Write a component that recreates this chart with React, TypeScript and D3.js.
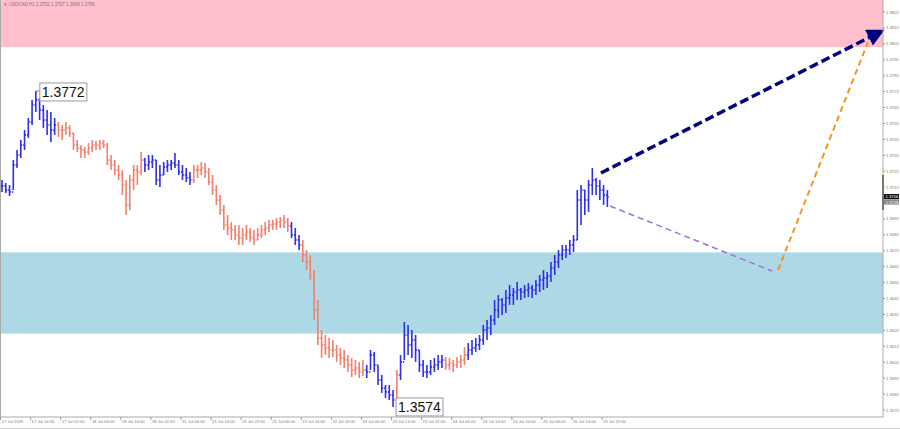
import React from "react";
import * as d3 from "d3";

// ---- Data (USDCAD, H1) ----
const highs = [
  1.37165, 1.37146, 1.37133, 1.3729, 1.37353, 1.37416, 1.37479, 1.37554, 1.37667, 1.37724,
  1.3768, 1.37636, 1.37604, 1.37592, 1.37554, 1.37529, 1.3751, 1.37529, 1.3751, 1.3746,
  1.37416, 1.37385, 1.37372, 1.37397, 1.37416, 1.3741, 1.37416, 1.37416, 1.37397, 1.37322,
  1.3729, 1.37259, 1.37227, 1.37165, 1.37196, 1.37259, 1.37259, 1.3734, 1.37303, 1.37322,
  1.37322, 1.3729, 1.37259, 1.37278, 1.3729, 1.3729, 1.37334, 1.3729, 1.37259, 1.3724,
  1.37215, 1.37259, 1.37259, 1.37278, 1.37271, 1.3724, 1.37196, 1.37133, 1.3707, 1.37008,
  1.36945, 1.36901, 1.36882, 1.36882, 1.36863, 1.36882, 1.36863, 1.36851, 1.36863, 1.36882,
  1.36901, 1.36913, 1.36913, 1.36926, 1.36932, 1.36945, 1.36926, 1.36901, 1.36863, 1.36819,
  1.36788, 1.36725, 1.36694, 1.36599, 1.36411, 1.36223, 1.36191, 1.36172, 1.3616, 1.36129,
  1.3611, 1.36097, 1.36066, 1.36047, 1.36034, 1.36022, 1.36034, 1.36003, 1.36097, 1.36085,
  1.36003, 1.3594, 1.35877, 1.35877, 1.35846, 1.35971, 1.36066, 1.36273, 1.36254, 1.36223,
  1.36191, 1.36097, 1.36034, 1.36003, 1.36034, 1.36047, 1.36066, 1.36066, 1.36053, 1.36047,
  1.36034, 1.36053, 1.36066, 1.36116, 1.36141, 1.3616, 1.36172, 1.36191, 1.36254, 1.36285,
  1.36317, 1.36411, 1.36442, 1.36424, 1.36474, 1.36505, 1.36486, 1.36524, 1.36486, 1.36505,
  1.36518, 1.36505, 1.36537, 1.36568, 1.36599, 1.36587, 1.3665, 1.36694, 1.36725, 1.36756,
  1.36756, 1.36788, 1.36819, 1.37102, 1.37133, 1.37102, 1.37165, 1.3724, 1.37177, 1.37165,
  1.37133, 1.37102,
];
const lows = [
  1.37089, 1.37083, 1.37064, 1.37102, 1.3724, 1.37303, 1.37353, 1.37429, 1.3751, 1.37592,
  1.37541, 1.37492, 1.37448, 1.37403, 1.37448, 1.37435, 1.37416, 1.37448, 1.37435, 1.37353,
  1.3734, 1.37303, 1.37303, 1.37322, 1.3734, 1.37353, 1.37353, 1.37366, 1.37259, 1.37227,
  1.37196, 1.37165, 1.3707, 1.36945, 1.36976, 1.37102, 1.37133, 1.37196, 1.37215, 1.37227,
  1.3724, 1.37133, 1.37121, 1.37196, 1.37215, 1.37227, 1.3724, 1.37196, 1.37165, 1.37152,
  1.37133, 1.37146, 1.37177, 1.37196, 1.37177, 1.37133, 1.3707, 1.37008, 1.36945, 1.36851,
  1.36819, 1.36788, 1.36788, 1.36756, 1.36756, 1.36788, 1.36775, 1.36756, 1.36788, 1.368,
  1.36819, 1.36838, 1.36851, 1.36851, 1.36863, 1.36863, 1.36838, 1.368, 1.36756, 1.36725,
  1.3665, 1.36599, 1.36537, 1.36285, 1.36129, 1.36047, 1.36066, 1.36047, 1.36053, 1.36022,
  1.36003, 1.35984, 1.35959, 1.35927, 1.3594, 1.35921, 1.35934, 1.35921, 1.35971, 1.35959,
  1.35877, 1.35827, 1.35795, 1.35783, 1.35739, 1.35783, 1.35909, 1.36034, 1.36066, 1.36047,
  1.36022, 1.35959, 1.35927, 1.35921, 1.3594, 1.35959, 1.35971, 1.35984, 1.35971, 1.35971,
  1.35959, 1.35984, 1.35984, 1.36003, 1.36034, 1.36066, 1.36085, 1.36097, 1.36129, 1.3616,
  1.36191, 1.36254, 1.36298, 1.36317, 1.3633, 1.3638, 1.3638, 1.36411, 1.36411, 1.36424,
  1.3643, 1.36424, 1.36442, 1.36461, 1.36474, 1.36486, 1.36524, 1.36568, 1.36612, 1.36662,
  1.36675, 1.36694, 1.36713, 1.36788, 1.36882, 1.36945, 1.36964, 1.3707, 1.3707, 1.37039,
  1.37008, 1.36995,
];
const closes = [
  1.37127, 1.37102, 1.37089, 1.37259, 1.37322, 1.37385, 1.37448, 1.37529, 1.37636, 1.37667,
  1.37604, 1.37541, 1.3751, 1.37479, 1.3751, 1.37479, 1.37479, 1.37492, 1.3746, 1.37385,
  1.37366, 1.37353, 1.3734, 1.37366, 1.37385, 1.37385, 1.37397, 1.37385, 1.3729, 1.37259,
  1.37227, 1.37196, 1.37133, 1.37008, 1.37165, 1.37227, 1.37215, 1.3729, 1.37259, 1.37278,
  1.3729, 1.37165, 1.37196, 1.37246, 1.37259, 1.37271, 1.37259, 1.37215, 1.37196, 1.37177,
  1.37165, 1.37227, 1.37227, 1.3724, 1.37215, 1.37152, 1.37102, 1.37039, 1.36976, 1.36882,
  1.36863, 1.36851, 1.36819, 1.368, 1.36819, 1.36838, 1.368, 1.36788, 1.36819, 1.36851,
  1.36863, 1.36882, 1.36888, 1.36901, 1.36913, 1.36901, 1.36875, 1.36819, 1.36788, 1.36756,
  1.36694, 1.3665, 1.36568, 1.36348, 1.36172, 1.36129, 1.3611, 1.36097, 1.36097, 1.36066,
  1.36047, 1.36034, 1.36003, 1.35971, 1.35984, 1.35959, 1.35971, 1.35959, 1.36066, 1.36003,
  1.35909, 1.35858, 1.35833, 1.35814, 1.35783, 1.3594, 1.36022, 1.36191, 1.36129, 1.3616,
  1.36097, 1.36003, 1.35959, 1.35959, 1.3599, 1.36003, 1.36022, 1.36034, 1.36003, 1.36015,
  1.36003, 1.36022, 1.36034, 1.36066, 1.36097, 1.3611, 1.36129, 1.3616, 1.36223, 1.36235,
  1.36285, 1.36348, 1.36411, 1.3638, 1.36424, 1.36442, 1.36461, 1.36474, 1.36461, 1.36474,
  1.36486, 1.36474, 1.36505, 1.36537, 1.36549, 1.36562, 1.36612, 1.3665, 1.36694, 1.36725,
  1.36725, 1.36756, 1.36788, 1.37039, 1.37102, 1.37039, 1.37133, 1.37165, 1.37127, 1.37102,
  1.3707, 1.37058,
];

// wave colouring: bar index where each wave starts, and its direction
const waveStarts = [0, 15, 38, 51, 77, 80, 97, 105, 106, 118, 124];
const waveDirs = ["up", "down", "up", "down", "up", "down", "up", "down", "up", "down", "up"];

// zones
const resistanceZone = [1.38, 1.3835];
const supportZone = [1.362, 1.3671];

// forecast arrows: [barIndex, price]
const mainArrow = [[159.3, 1.37209], [233.5, 1.38094]];
const pullbackLine = [[161.7, 1.37001], [204.8, 1.36593]];
const orangeLine = [[206.4, 1.36599], [230.3, 1.38031]];

const priceTicks = [
  1.3822, 1.3812, 1.3802, 1.3792, 1.3782, 1.3772, 1.3762, 1.3752, 1.3742, 1.3732, 1.3722, 1.3712,
  1.3692, 1.3682, 1.3672, 1.3662, 1.3652, 1.3642, 1.3632, 1.3622, 1.3612, 1.3602, 1.3592, 1.3582, 1.3572,
];
const timeLabels = [
  "17 Jul 2025", "17 Jul 14:00", "17 Jul 22:00", "18 Jul 06:00", "18 Jul 14:00", "18 Jul 22:00",
  "21 Jul 06:00", "21 Jul 14:00", "21 Jul 22:00", "22 Jul 06:00", "22 Jul 14:00", "22 Jul 22:00",
  "23 Jul 06:00", "23 Jul 14:00", "23 Jul 22:00", "24 Jul 06:00", "24 Jul 14:00", "24 Jul 22:00",
  "25 Jul 06:00", "25 Jul 14:00", "25 Jul 22:00",
];
const timeLabelBars = [0, 8, 16, 24, 32, 40, 48, 56, 64, 72, 80, 88, 96, 104, 112, 120, 128, 136, 144, 152, 160];

const W = 900;
const H = 429;
const plotRight = 883;
const plotBottom = 417;

const BLUE = "#2f2fe8";
const SALMON = "#f47f6c";
const SMALL = "'Liberation Sans', Arial, sans-serif";

export default function App() {
  const x = d3.scaleLinear().domain([0, 1]).range([2, 5.76]);
  const y = d3.scaleLinear().domain([1.3572, 1.3822]).range([410, 12]);

  const dirOf = (i: number) => {
    let d = waveDirs[0];
    for (let k = 0; k < waveStarts.length; k++) if (i >= waveStarts[k]) d = waveDirs[k];
    return d;
  };

  const peakIdx = d3.maxIndex(highs);
  const lowIdx = d3.minIndex(lows);
  const lastClose = closes[closes.length - 1];

  const line = d3
    .line<number[]>()
    .x((d) => x(d[0]))
    .y((d) => y(d[1]));

  const fmt = d3.format(".4f");

  return (
    <svg
      width={W}
      height={H}
      style={{ position: "absolute", left: 0, top: 0, background: "#fff" }}
      fontFamily={SMALL}
    >
      <defs>
        <marker id="navyHead" viewBox="0 0 10 10" refX="7" refY="5" markerWidth="6.5" markerHeight="5" orient="auto">
          <path d="M0,0 L10,5 L0,10 z" fill="#000080" />
        </marker>
      </defs>
      {/* zones */}
      <rect x={0} y={0} width={plotRight} height={y(resistanceZone[0])} fill="#ffc0cb" />
      <rect
        x={0}
        y={y(supportZone[1])}
        width={plotRight}
        height={y(supportZone[0]) - y(supportZone[1])}
        fill="#add8e6"
      />
      {/* title */}
      <text x={3} y={5.5} fontSize={4.5} fill="#777">
        ▼ USDCAD,H1  1.3702 1.3707 1.3699 1.3706
      </text>

      {/* bars */}
      <g strokeWidth={1.6}>
        {highs.map((h, i) => {
          const c = dirOf(i) === "up" ? BLUE : SALMON;
          const xi = x(i);
          const open = i > 0 ? closes[i - 1] : closes[i];
          return (
            <g key={i} stroke={c}>
              <line x1={xi} x2={xi} y1={y(h)} y2={y(lows[i])} />
              <line x1={xi - 1.4} x2={xi} y1={y(open)} y2={y(open)} />
              <line x1={xi} x2={xi + 1.4} y1={y(closes[i])} y2={y(closes[i])} />
            </g>
          );
        })}
      </g>

      {/* forecast lines */}
      <path d={line(pullbackLine) || ""} stroke="#a070e0" strokeWidth={1.5} strokeDasharray="6 4" fill="none" />
      <path d={line(orangeLine) || ""} stroke="#f7941d" strokeWidth={2} strokeDasharray="6 4" fill="none" />
      <path
        d={line(mainArrow) || ""}
        stroke="#000080"
        strokeWidth={3.5}
        strokeDasharray="9 4"
        fill="none"
        markerEnd="url(#navyHead)"
      />

      {/* extreme labels */}
      <g fontSize={14}>
        <line x1={x(peakIdx)} y1={y(highs[peakIdx])} x2={x(peakIdx) + 4} y2={y(highs[peakIdx])} stroke="#888" />
        <rect x={x(peakIdx) + 4} y={y(highs[peakIdx]) - 8} width={47} height={18} fill="#fff" stroke="#999" />
        <text x={x(peakIdx) + 6} y={y(highs[peakIdx]) + 6} fill="#111">
          {fmt(highs[peakIdx])}
        </text>
        <rect x={x(lowIdx) + 3} y={y(lows[lowIdx]) - 9} width={47} height={18} fill="#fff" stroke="#999" />
        <text x={x(lowIdx) + 5} y={y(lows[lowIdx]) + 5} fill="#111">
          {fmt(lows[lowIdx])}
        </text>
      </g>

      {/* frame */}
      <line x1={0.5} x2={0.5} y1={0} y2={plotBottom} stroke="#aaa" />
      <line x1={plotRight} x2={plotRight} y1={0} y2={plotBottom} stroke="#aaa" />
      <line x1={0} x2={plotRight} y1={plotBottom} y2={plotBottom} stroke="#aaa" />
      <rect x={plotRight - 1} y={175} width={2} height={35} fill="#777" />
      <line x1={0} x2={W} y1={H - 0.5} y2={H - 0.5} stroke="#ccc" />

      {/* price axis */}
      <g fontSize={4.2} fill="#777">
        {priceTicks.map((p) => (
          <g key={p}>
            <line x1={plotRight} x2={plotRight + 2} y1={y(p)} y2={y(p)} stroke="#999" />
            <text x={plotRight + 3} y={y(p) + 1.5}>
              {fmt(p)}
            </text>
          </g>
        ))}
      </g>
      <rect x={plotRight + 1} y={y(lastClose) - 3} width={15} height={5.2} fill="#111" />
      <text x={plotRight + 2.5} y={y(lastClose) + 1.3} fontSize={4.2} fill="#fff">
        {fmt(lastClose)}
      </text>
      <rect x={plotRight + 1} y={y(lastClose) + 2.4} width={15} height={5.2} fill="#888" />
      <text x={plotRight + 2.5} y={y(lastClose) + 6.6} fontSize={4.2} fill="#eee">
        1.3708
      </text>

      {/* time axis */}
      <g fontSize={4.2} fill="#777">
        {timeLabels.map((t, k) => (
          <g key={t}>
            <line x1={x(timeLabelBars[k]) - 1.5} x2={x(timeLabelBars[k]) - 1.5} y1={plotBottom} y2={plotBottom + 3} stroke="#999" />
            <text x={x(timeLabelBars[k]) - 0.5} y={plotBottom + 5.5}>
              {t}
            </text>
          </g>
        ))}
      </g>
    </svg>
  );
}
